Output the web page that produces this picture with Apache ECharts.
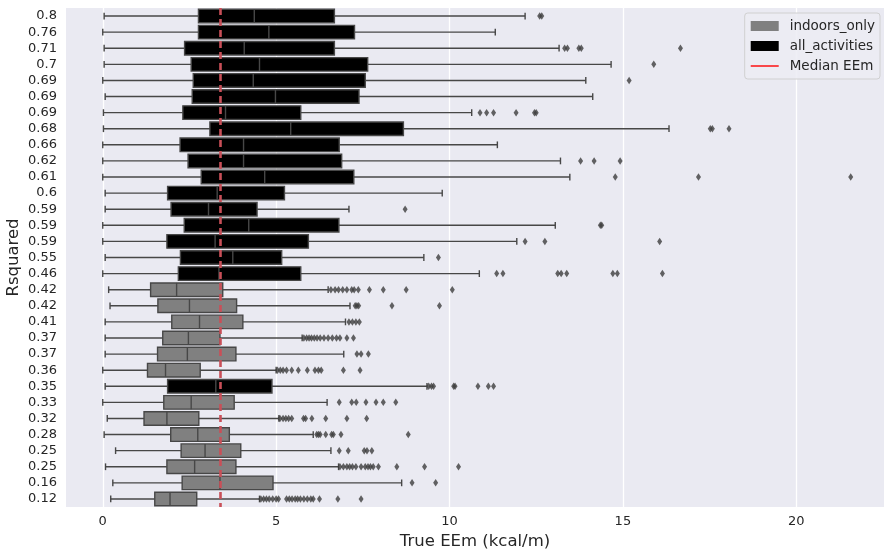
<!DOCTYPE html>
<html>
<head>
<meta charset="utf-8">
<script src="https://cdn.jsdelivr.net/npm/echarts@6/dist/echarts.min.js"></script>
<style>html,body{margin:0;padding:0;background:#fff}#c{width:885px;height:552px}</style>
</head>
<body>
<div id="c"></div>
<script>
// ---- data (top row first) ----
const rsquaredLabels = ['0.8','0.76','0.71','0.7','0.69','0.69','0.69','0.68','0.66','0.62','0.61','0.6','0.59','0.59','0.59','0.55','0.46','0.42','0.42','0.41','0.37','0.37','0.36','0.35','0.33','0.32','0.28','0.25','0.25','0.16','0.12'];
// A = all_activities, I = indoors_only
const groupType = ['A','A','A','A','A','A','A','A','A','A','A','A','A','A','A','A','A','I','I','I','I','I','I','A','I','I','I','I','I','I','I'];
const whiskerLow = [0.04,0.0,0.04,0.04,0.0,0.07,0.02,0.02,0.0,0.0,0.0,0.07,0.07,0.0,0.0,0.07,0.0,0.17,0.21,0.07,0.07,0.07,0.0,0.07,0.0,0.13,0.04,0.37,0.08,0.29,0.23];
const q1 = [2.76,2.76,2.36,2.55,2.61,2.58,2.31,3.09,2.23,2.46,2.84,1.87,1.97,2.35,1.85,2.24,2.18,1.38,1.59,1.99,1.73,1.58,1.29,1.87,1.76,1.19,1.96,2.26,1.85,2.29,1.5];
const median = [4.37,4.79,4.08,4.52,4.34,4.98,3.54,5.42,4.06,4.06,4.67,3.3,3.05,4.21,3.24,3.75,3.35,2.13,2.5,2.79,2.47,2.44,1.81,3.26,2.55,1.85,2.74,2.95,2.65,3.38,1.94];
const q3 = [6.68,7.26,6.68,7.64,7.57,7.39,5.71,8.67,6.82,6.89,7.24,5.24,4.45,6.81,5.93,5.16,5.71,3.46,3.86,4.04,3.38,3.84,2.81,4.88,3.79,2.77,3.65,3.98,3.84,4.91,2.71];
const whiskerHigh = [12.18,11.32,13.16,14.66,13.93,14.13,10.64,16.33,11.38,13.2,13.47,9.79,7.1,13.05,11.94,9.26,10.86,6.5,7.13,7.0,5.75,6.95,5.0,9.35,6.47,5.08,6.07,6.58,6.8,8.62,4.52];
const outliers = [
  [12.6,12.66],
  [],
  [13.32,13.4,13.73,13.8,16.66],
  [15.89],
  [15.18],
  [],
  [10.88,11.07,11.27,11.92,12.45,12.5],
  [17.52,17.58,18.06],
  [],
  [13.78,14.17,14.92],
  [14.78,17.18,21.57],
  [],
  [8.72],
  [14.35,14.39],
  [12.18,12.75,16.06],
  [9.68],
  [11.36,11.54,13.12,13.22,13.38,14.71,14.84,16.14],
  [6.58,6.7,6.8,6.92,7.04,7.18,7.25,7.37,7.69,8.09,8.75,10.08],
  [7.28,7.33,7.38,8.34,9.71],
  [7.1,7.2,7.3,7.4],
  [5.8,5.88,5.95,6.02,6.1,6.18,6.27,6.38,6.5,6.62,6.74,6.84,7.04,7.23],
  [7.33,7.45,7.66],
  [5.04,5.12,5.2,5.3,5.45,5.64,5.9,6.12,6.22,6.3,6.94,7.42],
  [9.4,9.48,9.54,10.12,10.16,10.82,11.12,11.27],
  [6.82,7.18,7.31,7.59,7.88,8.09,8.45],
  [5.11,5.2,5.28,5.36,5.45,5.79,5.85,6.03,6.43,7.04,7.61],
  [6.17,6.22,6.27,6.43,6.6,6.65,6.87,8.81],
  [6.82,7.08,7.54,7.62,7.76],
  [6.84,6.94,7.04,7.12,7.2,7.3,7.45,7.57,7.65,7.72,7.8,7.95,8.48,9.28,10.26],
  [8.92,9.6],
  [4.56,4.64,4.72,4.8,4.9,5.0,5.07,5.3,5.38,5.46,5.55,5.62,5.7,5.8,5.9,6.0,6.07,6.25,6.78,7.45]
];
const medianEEm = 3.39;
const xTicks = [0,5,10,15,20];

// ---- build series data ----
function boxData(type){
  const out = [];
  rsquaredLabels.forEach((_, i) => {
    if (groupType[i] === type) out.push([i, whiskerLow[i], q1[i], median[i], q3[i], whiskerHigh[i]]);
  });
  return out;
}
const outlierData = [];
outliers.forEach((arr, i) => arr.forEach(v => outlierData.push([v, i])));

const EDGE = '#474747';
function renderBox(params, api){
  const idx = api.value(0);
  const pLo = api.coord([api.value(1), idx]);
  const pQ1 = api.coord([api.value(2), idx]);
  const pMd = api.coord([api.value(3), idx]);
  const pQ3 = api.coord([api.value(4), idx]);
  const pHi = api.coord([api.value(5), idx]);
  const band = api.size([0, 1])[1];
  const bh = band * 0.84;
  const ch = bh / 4;
  const y = pLo[1];
  const ls = {stroke: EDGE, lineWidth: 1.4};
  return {
    type: 'group',
    children: [
      {type:'line', shape:{x1:pLo[0], y1:y, x2:pQ1[0], y2:y}, style:ls},
      {type:'line', shape:{x1:pQ3[0], y1:y, x2:pHi[0], y2:y}, style:ls},
      {type:'line', shape:{x1:pLo[0], y1:y-ch, x2:pLo[0], y2:y+ch}, style:ls},
      {type:'line', shape:{x1:pHi[0], y1:y-ch, x2:pHi[0], y2:y+ch}, style:ls},
      {type:'rect', shape:{x:pQ1[0], y:y-bh/2, width:pQ3[0]-pQ1[0], height:bh}, style:{fill: api.visual('color'), stroke: EDGE, lineWidth:1.4}},
      {type:'line', shape:{x1:pMd[0], y1:y-bh/2, x2:pMd[0], y2:y+bh/2}, style:ls}
    ]
  };
}

const chart = echarts.init(document.getElementById('c'), null, {renderer:'canvas'});
const FONT = 'DejaVu Sans';
chart.setOption({
  animation: false,
  textStyle: {fontFamily: FONT},
  grid: {left: 66, right: 1, top: 8, bottom: 45, show: true, backgroundColor: '#EAEAF2', borderWidth: 0, containLabel: false, outerBoundsMode: 'none'},
  xAxis: {
    type: 'value', min: -1.06, max: 22.53,
    name: 'True EEm (kcal/m)', nameLocation: 'middle', nameGap: 26, nameMoveOverlap: false,
    nameTextStyle: {fontSize: 16.5, color: '#262626', fontFamily: FONT},
    axisLine: {show: false},
    axisTick: {show: false, customValues: xTicks},
    axisLabel: {customValues: xTicks, fontSize: 13, color: '#262626', margin: 8, fontFamily: FONT},
    splitLine: {show: true, lineStyle: {color: '#ffffff', width: 1.3}}
  },
  yAxis: {
    type: 'category', data: rsquaredLabels, inverse: true,
    name: 'Rsquared', nameLocation: 'middle', nameGap: 44, nameMoveOverlap: false,
    nameTextStyle: {fontSize: 16.5, color: '#262626', fontFamily: FONT},
    axisLine: {show: false}, axisTick: {show: false}, splitLine: {show: false},
    axisLabel: {interval: 0, fontSize: 13, color: '#262626', margin: 9, fontFamily: FONT}
  },
  legend: {
    orient: 'vertical', right: 5, top: 13,
    itemWidth: 28, itemHeight: 10, itemGap: 6,
    padding: [6, 5, 6, 6],
    backgroundColor: 'rgba(236,236,243,0.85)', borderColor: '#d0d0d0', borderWidth: 1, borderRadius: 3,
    textStyle: {fontSize: 13.5, color: '#262626', fontFamily: FONT, padding: [0, 0, 0, 6]},
    data: [
      {name: 'indoors_only', icon: 'rect'},
      {name: 'all_activities', icon: 'rect'},
      {name: 'Median EEm', icon: 'path://M0,0 M28,10 M0,4.3 L28,4.3 L28,5.7 L0,5.7 Z'}
    ]
  },
  series: [
    {
      name: 'indoors_only', type: 'custom', renderItem: renderBox,
      itemStyle: {color: '#808080'},
      encode: {x: [1,2,3,4,5], y: 0},
      data: boxData('I'), z: 2
    },
    {
      name: 'all_activities', type: 'custom', renderItem: renderBox,
      itemStyle: {color: '#000000'},
      encode: {x: [1,2,3,4,5], y: 0},
      data: boxData('A'), z: 2
    },
    {
      name: 'outliers', type: 'scatter', symbol: 'diamond', symbolSize: [5, 7.5],
      itemStyle: {color: '#3d3d3d'}, data: outlierData, z: 3, silent: true
    },
    {
      name: 'Median EEm', type: 'line', data: [], symbol: 'none',
      lineStyle: {color: '#ff0000', width: 1.5},
      itemStyle: {color: '#ff0000'},
      z: 10,
      markLine: {
        silent: true, symbol: ['none', 'none'], label: {show: false},
        lineStyle: {color: '#c94f58', type: [7, 4], width: 2.6},
        data: [{xAxis: medianEEm}]
      }
    }
  ]
});
</script>
</body>
</html>
